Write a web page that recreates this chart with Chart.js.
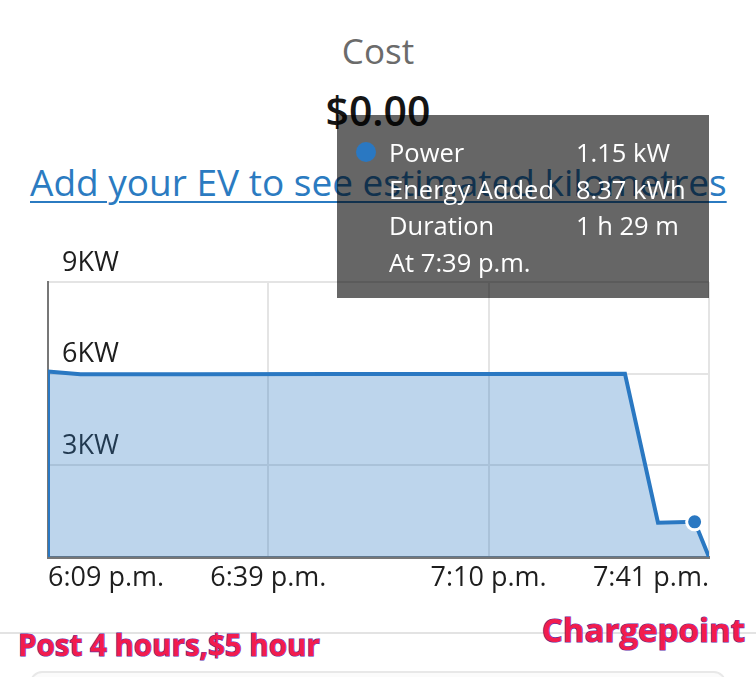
<!DOCTYPE html>
<html>
<head>
<meta charset="utf-8">
<script src="https://cdn.jsdelivr.net/npm/chart.js@4/dist/chart.umd.min.js"></script>
<style>
html,body{margin:0;padding:0;background:#fff;}
body{width:756px;height:677px;position:relative;overflow:hidden;font-family:'Open Sans',sans-serif;}
.t{position:absolute;white-space:nowrap;line-height:1;}
#cost{left:0;width:756px;text-align:center;top:33px;font-size:35px;color:#6b6b6b;}
#amount{left:0;width:756px;text-align:center;top:90px;font-size:41px;font-weight:600;color:#151515;}
#link{left:30px;top:163px;font-size:37px;color:#2b7bc1;text-decoration:underline;text-decoration-thickness:2px;text-underline-offset:5px;}
#sep{position:absolute;left:0;width:756px;top:632px;height:2px;background:#e3e3e3;}
.ann{color:#f21c4d;font-weight:700;-webkit-text-stroke:1.2px #5c2fa8;paint-order:stroke fill;}
#post{left:18px;top:630px;font-size:29.5px;}
#brand{right:11px;top:613px;font-size:33px;}
#box{position:absolute;left:30px;top:671px;width:692px;height:40px;border:2px solid #e8e8e8;border-radius:12px;background:#fbfbfb;}
#wrap{position:absolute;left:0;top:0;width:756px;height:677px;z-index:2;}
#tip{position:absolute;z-index:3;display:none;box-sizing:border-box;width:372px;height:183px;padding-top:19px;background:rgba(0,0,0,0.6);color:#fff;font-size:25.5px;}
#tip .row{position:relative;height:36.5px;line-height:36.5px;white-space:nowrap;}
#tip .k{position:absolute;left:52px;}
#tip .v{position:absolute;left:239px;}
#tip .dot{position:absolute;left:19px;top:8px;width:20px;height:20px;border-radius:50%;background:#2a78c2;}
</style>
</head>
<body>
<div class="t" id="cost">Cost</div>
<div class="t" id="amount">$0.00</div>
<div class="t" id="link">Add your EV to see estimated kilometres</div>
<div id="sep"></div>
<div class="t ann" id="post">Post 4 hours,$5 hour</div>
<div class="t ann" id="brand">Chargepoint</div>
<div id="box"></div>
<div id="wrap"><canvas id="c" width="756" height="677"></canvas></div>
<div id="tip"></div>
<script>
// ---- data ----
const startHour = 18, startMinute = 9;               // 6:09 p.m.
const minutes = [0, 0, 4.5, 20, 40, 60, 80.3, 84.9, 90, 92];
const powerKW = [0, 6.07, 5.98, 5.98, 5.99, 5.99, 6.0, 1.12, 1.15, 0];
const xTickMinutes = [0, 30.67, 61.33, 92];
const xTickLabels = ['6:09 p.m.', '6:39 p.m.', '7:10 p.m.', '7:41 p.m.'];
const yTickValues = [0, 3, 6, 9];
const yTickLabels = ['', '3KW', '6KW', '9KW'];
const activeIndex = 8;
const tipKeys = ['Power', 'Energy Added', 'Duration'];
const tipEnergy = '8.37 kWh';
const tipDuration = '1 h 29 m';

const FONT = "'Open Sans', sans-serif";

function fmtTime(m) {
  const total = startHour * 60 + startMinute + Math.floor(m);
  const h = Math.floor(total / 60), mm = total % 60;
  const h12 = h > 12 ? h - 12 : h;
  return h12 + ':' + String(mm).padStart(2, '0') + (h >= 12 ? ' p.m.' : ' a.m.');
}

function externalTip(context) {
  const {chart, tooltip} = context;
  const el = document.getElementById('tip');
  if (tooltip.opacity === 0 || !tooltip.dataPoints || !tooltip.dataPoints.length) { el.style.display = 'none'; return; }
  const raw = tooltip.dataPoints[0].raw;
  const vals = [raw.y.toFixed(2) + ' kW', tipEnergy, tipDuration];
  let html = '';
  tipKeys.forEach((k, i) => {
    html += '<div class="row">' + (i === 0 ? '<span class="dot"></span>' : '') +
      '<span class="k">' + k + '</span><span class="v">' + vals[i] + '</span></div>';
  });
  html += '<div class="row"><span class="k">At ' + fmtTime(raw.x) + '</span></div>';
  el.innerHTML = html;
  el.style.display = 'block';
  const ca = chart.chartArea;
  el.style.left = (ca.right - el.offsetWidth) + 'px';
  el.style.top = (ca.top - 167) + 'px';
}

const points = minutes.map((m, i) => ({x: m, y: powerKW[i]}));

const chart = new Chart(document.getElementById('c'), {
  type: 'line',
  data: {
    datasets: [{
      label: 'Power',
      data: points,
      borderColor: '#2a78c2',
      borderWidth: 4,
      backgroundColor: 'rgba(42,120,194,0.31)',
      fill: 'origin',
      tension: 0,
      pointRadius: 0,
      pointHoverRadius: 8,
      pointHoverBackgroundColor: '#2a78c2',
      pointHoverBorderColor: '#ffffff',
      pointHoverBorderWidth: 3
    }]
  },
  options: {
    responsive: false,
    animation: false,
    events: [],
    layout: {padding: {left: 48, right: 47, top: 282, bottom: 0}},
    plugins: {
      legend: {display: false},
      tooltip: {enabled: false, external: externalTip}
    },
    scales: {
      x: {
        type: 'linear', min: 0, max: 92,
        afterFit(s) { s.height = 120; },
        afterBuildTicks(s) { s.ticks = xTickMinutes.map(v => ({value: v})); },
        ticks: {
          align: 'inner', padding: 5, color: '#1e1e1e', autoSkip: false, maxRotation: 0,
          font: {family: FONT, size: 27},
          callback: (v, i) => xTickLabels[i]
        },
        grid: {color: '#e4e4e4', lineWidth: 2, drawTicks: false},
        border: {color: '#777777', width: 3}
      },
      y: {
        min: 0, max: 9,
        afterFit(s) { s.width = 0; },
        afterBuildTicks(s) { s.ticks = yTickValues.map(v => ({value: v})); },
        ticks: {
          mirror: true, padding: 14, color: '#1e1e1e',
          font: {family: FONT, size: 27, lineHeight: 1.4},
          callback: (v, i) => [yTickLabels[i], '']
        },
        grid: {color: '#e4e4e4', lineWidth: 2, drawTicks: false},
        border: {color: '#777777', width: 2}
      }
    }
  }
});

chart.setActiveElements([{datasetIndex: 0, index: activeIndex}]);
chart.tooltip.setActiveElements([{datasetIndex: 0, index: activeIndex}], {x: 0, y: 0});
chart.update();
</script>
</body>
</html>
